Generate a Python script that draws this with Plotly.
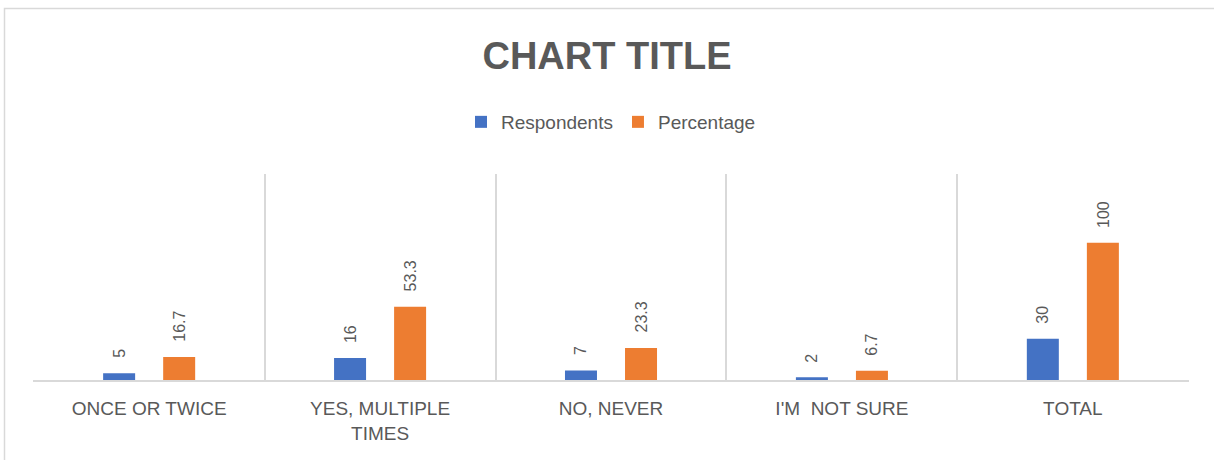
import plotly.graph_objects as go

categories = ["ONCE OR TWICE", "YES, MULTIPLE<br>TIMES", "NO, NEVER", "I'M  NOT SURE", "TOTAL"]
respondents = [5, 16, 7, 2, 30]
percentage = [16.7, 53.3, 23.3, 6.7, 100]
resp_labels = ["5", "16", "7", "2", "30"]
pct_labels = ["16.7", "53.3", "23.3", "6.7", "100"]

BLUE = "#4472C4"
ORANGE = "#ED7D31"
GREY = "#595959"
LINE = "#D9D9D9"
FONT = "Liberation Sans, Arial"

W, H = 1214, 460
L, R, T, B = 33, 25, 174, 80
pw, ph = W - L - R, H - T - B

fig = go.Figure()
fig.add_trace(go.Bar(name="Respondents", x=categories, y=respondents, marker_color=BLUE,
                     marker_line_width=0))
fig.add_trace(go.Bar(name="Percentage", x=categories, y=percentage, marker_color=ORANGE,
                     marker_line_width=0))

annotations = []
for vals, labs, shift in ((respondents, resp_labels, -30), (percentage, pct_labels, 30)):
    for c, v, t in zip(categories, vals, labs):
        annotations.append(dict(x=c, y=v, text=t, showarrow=False, textangle=-90,
                                xshift=shift, yshift=13, yanchor="bottom", xanchor="center",
                                font=dict(family=FONT, size=16, color=GREY)))

def px_x(px):
    return (px - L) / pw

def px_y(py):
    return (H - B - py) / ph

fig.update_layout(
    width=W, height=H,
    margin=dict(l=L, r=R, t=T, b=B),
    paper_bgcolor="white", plot_bgcolor="white",
    barmode="group", bargap=0.48, bargroupgap=0.467,
    title=dict(text="<b>CHART TITLE</b>", x=0.5, xref="container", xanchor="center",
               y=1 - 56 / H, yref="container", yanchor="middle",
               font=dict(family=FONT, size=38, color=GREY)),
    legend=dict(orientation="h", x=0.5, xanchor="center", y=px_y(122), yanchor="middle",
                font=dict(family=FONT, size=19, color=GREY),
                itemwidth=30, bgcolor="rgba(0,0,0,0)"),
    xaxis=dict(tickson="boundaries", showgrid=True, gridcolor=LINE, gridwidth=1.5,
               range=[-0.503, 4.503],
               showline=True, linecolor=LINE, linewidth=2, ticks="", ticklen=0,
               ticklabelstandoff=10,
               tickfont=dict(family=FONT, size=19, color=GREY)),
    yaxis=dict(range=[0, 150], visible=False, showgrid=False, zeroline=False),
    annotations=annotations,
    shapes=[dict(type="rect", xref="paper", yref="paper",
                 x0=px_x(4.5), x1=px_x(1230), y0=px_y(480), y1=px_y(8.5),
                 line=dict(color=LINE, width=1.5), fillcolor="rgba(0,0,0,0)", layer="below")],
    showlegend=True,
)

fig.write_html("out.html", config={"displayModeBar": False},
               post_script="document.body.style.margin='0';document.body.style.overflow='hidden';")
